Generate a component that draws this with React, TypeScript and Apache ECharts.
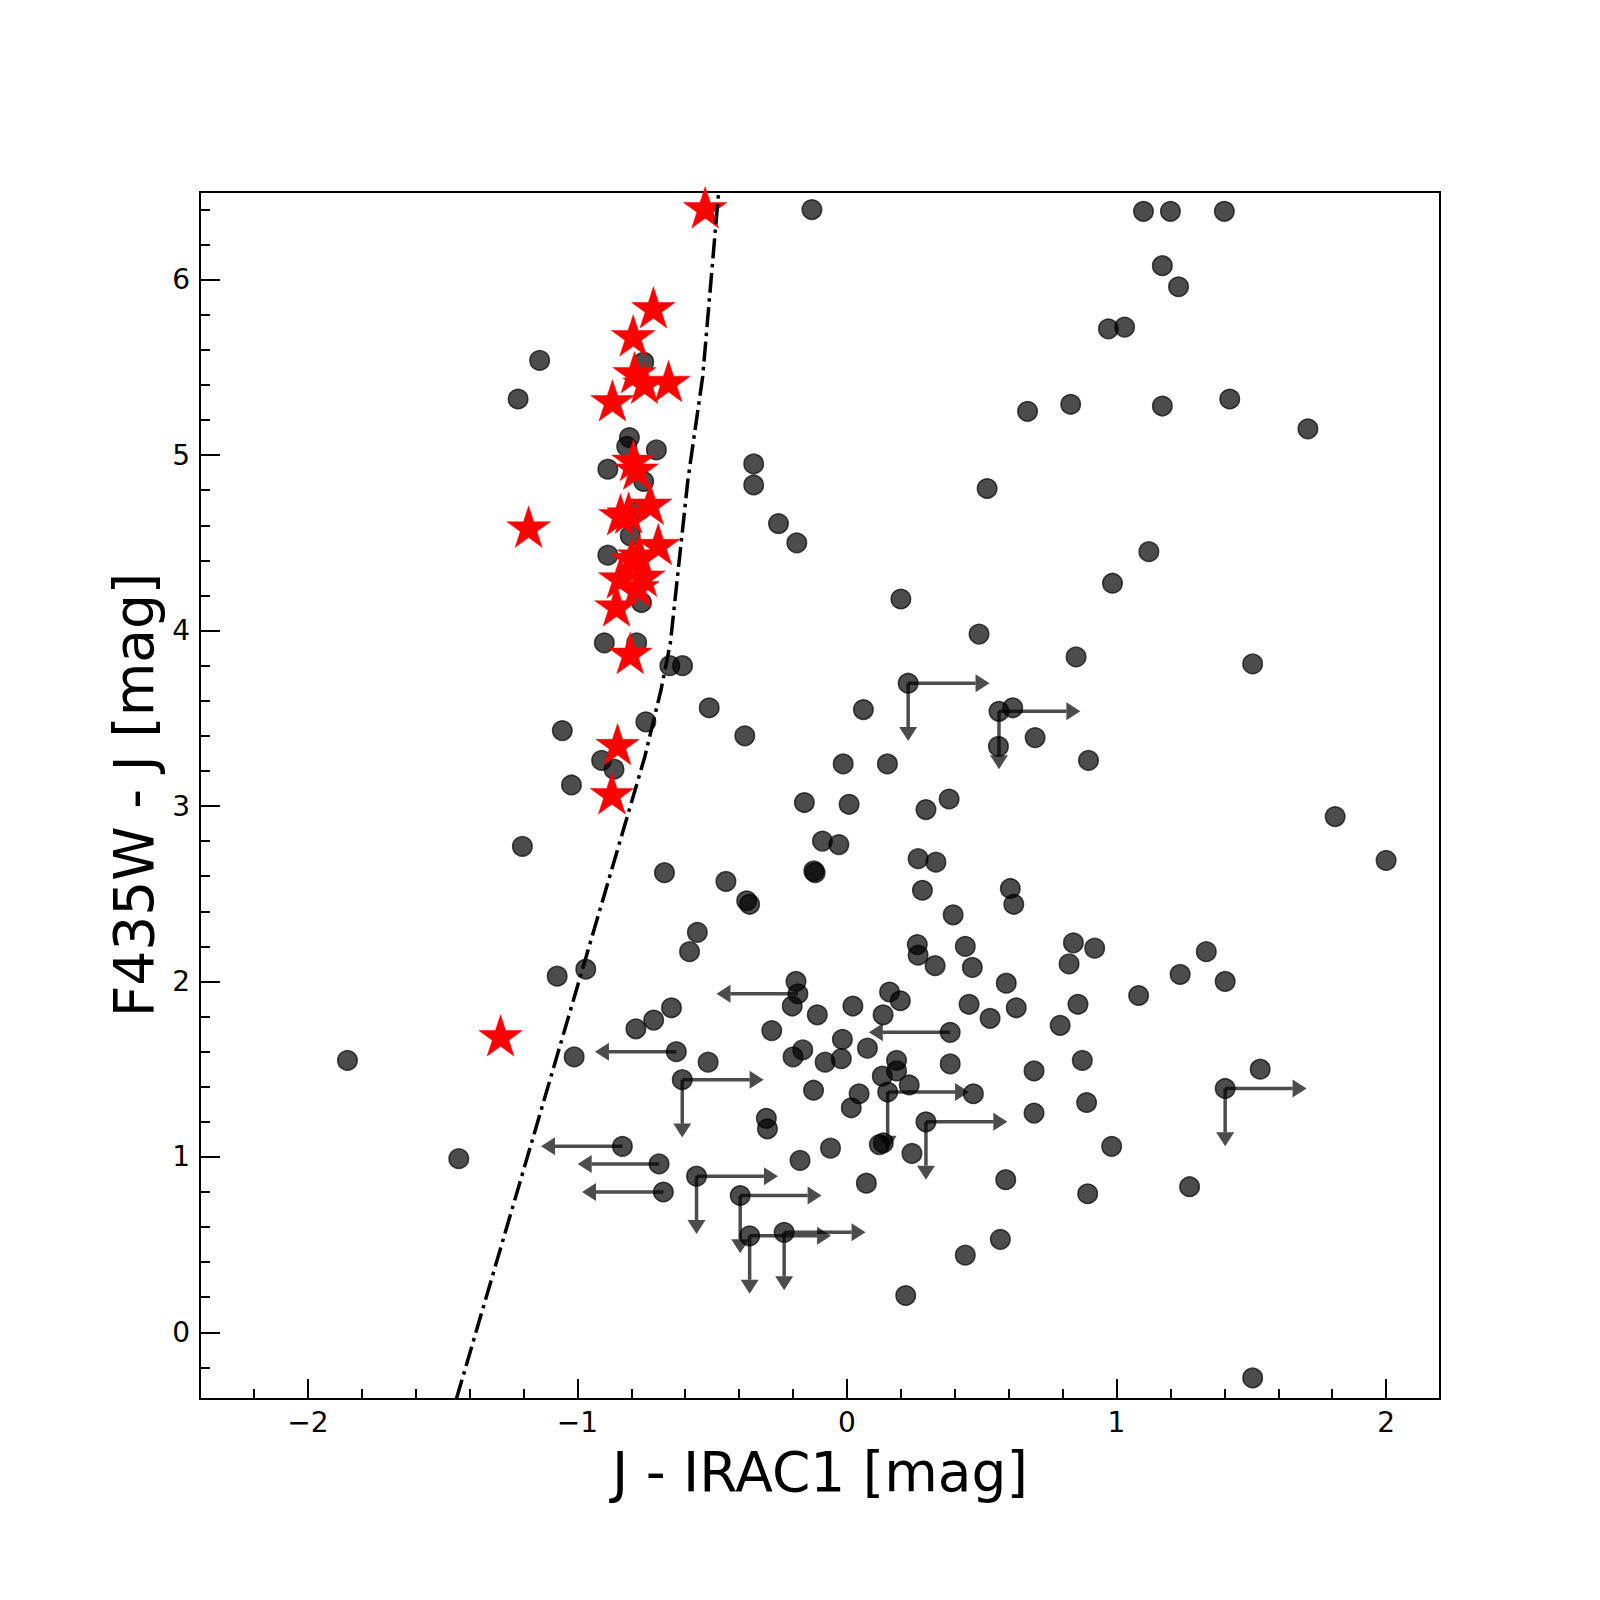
import React, { useEffect, useRef } from "react";
import * as echarts from "echarts";

// ---- axis extents & ticks ----
const X_MIN = -2.4;
const X_MAX = 2.2;
const Y_MIN = -0.38;
const Y_MAX = 6.5;
const xMajorTicks = [-2, -1, 0, 1, 2];
const xMinorTicks = [-2.2, -1.8, -1.6, -1.4, -1.2, -0.8, -0.6, -0.4, -0.2, 0.2, 0.4, 0.6, 0.8, 1.2, 1.4, 1.6, 1.8];
const yMajorTicks = [0, 1, 2, 3, 4, 5, 6];
const yMinorTicks = [-0.2, 0.2, 0.4, 0.6, 0.8, 1.2, 1.4, 1.6, 1.8, 2.2, 2.4, 2.6, 2.8, 3.2, 3.4, 3.6, 3.8, 4.2, 4.4, 4.6, 4.8, 5.2, 5.4, 5.6, 5.8, 6.2, 6.4];
const xTitle = "J - IRAC1 [mag]";
const yTitle = "F435W - J [mag]";

// ---- grey circles (J - IRAC1, F435W - J) ----
const upperCircles: [number, number][] = [
  [-0.13, 6.4], [1.1, 6.39], [1.2, 6.39], [1.4, 6.39], [1.17, 6.08], [1.23, 5.96], [0.97, 5.72], [1.03, 5.73],
  [0.67, 5.25], [0.83, 5.29], [1.17, 5.28], [1.42, 5.32], [1.71, 5.15], [0.52, 4.81], [1.12, 4.45], [0.985, 4.27],
  [0.2, 4.18], [0.49, 3.98], [0.85, 3.85], [1.505, 3.81],
  [-1.14, 5.54], [-1.22, 5.32], [-0.754, 5.53], [-0.807, 5.1], [-0.817, 5.05], [-0.707, 5.03], [-0.887, 4.92],
  [-0.754, 4.85], [-0.767, 4.69], [-0.804, 4.54], [-0.887, 4.43], [-0.762, 4.16],
  [-0.346, 4.95], [-0.346, 4.83], [-0.254, 4.61], [-0.186, 4.5],
  [-0.9, 3.93], [-0.78, 3.93], [-0.657, 3.8], [-0.61, 3.8], [-0.511, 3.56], [-0.379, 3.4], [-0.746, 3.48],
  [-1.056, 3.43], [-0.91, 3.26], [-0.864, 3.21], [-1.022, 3.12], [-1.204, 2.77],
];
const midCircles: [number, number][] = [
  [0.227, 3.7], [0.061, 3.55], [0.564, 3.54], [0.615, 3.56], [0.562, 3.34], [0.698, 3.39], [0.896, 3.26],
  [-0.014, 3.24], [0.15, 3.24], [0.379, 3.04], [0.293, 2.98], [0.008, 3.01], [-0.158, 3.02], [-0.091, 2.8],
  [-0.03, 2.78], [-0.123, 2.63], [-0.118, 2.62], [0.264, 2.7], [0.33, 2.68], [0.28, 2.52], [0.606, 2.53],
  [0.619, 2.44], [0.394, 2.38], [1.811, 2.94], [2.0, 2.69],
  [-0.449, 2.57], [-0.372, 2.46], [-0.361, 2.44], [-0.555, 2.28], [-0.584, 2.17], [-0.677, 2.62],
  [-1.075, 2.03], [-0.969, 2.07],
];
const lowerCircles: [number, number][] = [
  [0.261, 2.21], [0.264, 2.15], [0.327, 2.09], [0.439, 2.2], [0.465, 2.08], [0.84, 2.22], [0.919, 2.19],
  [0.824, 2.1], [1.333, 2.17], [1.236, 2.04], [1.403, 2.0], [1.082, 1.92], [0.591, 1.99], [0.453, 1.87],
  [0.531, 1.79], [0.628, 1.85], [0.857, 1.87], [0.791, 1.75],
  [-0.189, 2.0], [-0.182, 1.93], [-0.203, 1.86], [-0.11, 1.81], [0.022, 1.86], [0.158, 1.94], [0.198, 1.89],
  [0.134, 1.81], [0.383, 1.71], [-0.279, 1.72], [-0.783, 1.73], [-0.717, 1.78], [-0.651, 1.85],
  [-0.017, 1.67], [0.076, 1.62], [-0.164, 1.61], [-0.2, 1.57], [-0.021, 1.56], [-0.081, 1.54], [-0.515, 1.54],
  [-0.633, 1.6], [-0.611, 1.44], [0.383, 1.53], [0.873, 1.55], [0.694, 1.49], [1.533, 1.5], [1.403, 1.39],
  [-0.124, 1.38], [0.045, 1.36], [0.016, 1.28], [0.184, 1.55], [0.184, 1.49], [0.131, 1.46], [0.231, 1.41],
  [0.151, 1.37], [0.469, 1.36], [0.694, 1.25], [0.889, 1.31], [-0.299, 1.22], [-0.295, 1.16], [0.293, 1.2],
  [0.12, 1.07], [0.135, 1.08],
  [-0.833, 1.06], [-0.697, 0.96], [-0.681, 0.8], [-0.558, 0.89], [-0.396, 0.78], [-0.361, 0.55], [-0.233, 0.57],
  [0.982, 1.06], [0.241, 1.02], [-0.061, 1.05], [-0.174, 0.98], [0.072, 0.85], [0.589, 0.87], [0.893, 0.79],
  [1.271, 0.83], [0.569, 0.53], [0.439, 0.44], [0.218, 0.21], [1.505, -0.26],
  [-1.012, 1.57], [-1.853, 1.55], [-1.44, 0.99],
];

// ---- limits: right (lower limit in x) + down (upper limit in y), and left-only ----
const limitRightDown: [number, number][] = [
  [0.227, 3.7], [0.564, 3.54], [-0.611, 1.44], [1.403, 1.39], [0.151, 1.37], [0.293, 1.2],
  [-0.558, 0.89], [-0.396, 0.78], [-0.361, 0.55], [-0.233, 0.57],
];
const limitLeft: [number, number][] = [
  [-0.182, 1.93], [0.383, 1.71], [-0.633, 1.6], [-0.833, 1.06], [-0.697, 0.96], [-0.681, 0.8],
];
const ARROW_LEN = 0.25;

// ---- red stars ----
const stars: [number, number][] = [
  [-0.526, 6.4], [-0.718, 5.83], [-0.793, 5.67], [-0.788, 5.46], [-0.751, 5.4], [-0.662, 5.41], [-0.87, 5.3],
  [-0.792, 4.96], [-0.78, 4.91], [-1.181, 4.58], [-0.84, 4.65], [-0.81, 4.66], [-0.73, 4.71], [-0.7, 4.48],
  [-0.798, 4.4], [-0.771, 4.42], [-0.841, 4.29], [-0.777, 4.24], [-0.755, 4.3], [-0.855, 4.13], [-0.804, 3.86],
  [-0.851, 3.34], [-0.872, 3.06], [-1.285, 1.68],
];

// ---- dash-dot boundary line ----
const boundaryLine: [number, number][] = [
  [-1.449, -0.38], [-0.75, 3.28], [-0.69, 3.66], [-0.655, 3.93], [-0.59, 4.86], [-0.535, 5.45], [-0.476, 6.5],
];

const STAR_PATH =
  "path://M0,-1L0.2245,-0.309L0.951,-0.309L0.363,0.118L0.588,0.809L0,0.382L-0.588,0.809L-0.363,0.118L-0.951,-0.309L-0.2245,-0.309ZM0,1";
const GREY = "rgba(0,0,0,0.7)";
const FONT = "DejaVu Sans";

const fmt = (v: number) => (v < 0 ? "\u2212" + Math.abs(v) : String(v));

export default function App() {
  const ref = useRef<HTMLDivElement>(null);
  useEffect(() => {
    if (!ref.current) return;
    const chart = echarts.init(ref.current, null, { renderer: "svg" });
    const circles = [...upperCircles, ...midCircles, ...lowerCircles];
    const arrowData = [
      ...limitRightDown.map((p) => [p[0], p[1], 0]),
      ...limitLeft.map((p) => [p[0], p[1], 1]),
    ];
    const HL = 14;
    const HW = 9;
    const axisCommon = { splitLine: { show: false }, axisLine: { show: false, onZero: false } };
    const option: any = {
      animation: false,
      backgroundColor: "#fff",
      grid: {
        left: 200, right: 160, top: 192, bottom: 201,
        show: true, borderColor: "#000", borderWidth: 2, backgroundColor: "transparent",
      },
      xAxis: [
        {
          type: "value", min: X_MIN, max: X_MAX, position: "bottom", ...axisCommon,
          axisTick: { show: true, inside: true, length: 20, customValues: xMajorTicks, lineStyle: { color: "#000", width: 2 } },
          axisLabel: { customValues: xMajorTicks, formatter: fmt, fontSize: 28, fontFamily: FONT, color: "#000", margin: 9 },
        },
        {
          type: "value", min: X_MIN, max: X_MAX, position: "bottom", ...axisCommon,
          axisTick: { show: true, inside: true, length: 10, customValues: xMinorTicks, lineStyle: { color: "#000", width: 2 } },
          axisLabel: { show: false },
        },
      ],
      yAxis: [
        {
          type: "value", min: Y_MIN, max: Y_MAX, position: "left", ...axisCommon,
          axisTick: { show: true, inside: true, length: 20, customValues: yMajorTicks, lineStyle: { color: "#000", width: 2 } },
          axisLabel: { customValues: yMajorTicks, formatter: fmt, fontSize: 28, fontFamily: FONT, color: "#000", margin: 10 },
        },
        {
          type: "value", min: Y_MIN, max: Y_MAX, position: "left", ...axisCommon,
          axisTick: { show: true, inside: true, length: 10, customValues: yMinorTicks, lineStyle: { color: "#000", width: 2 } },
          axisLabel: { show: false },
        },
      ],
      graphic: [
        {
          type: "text", x: 820, y: 1472, z: 10,
          style: { text: xTitle, fontSize: 55, fontFamily: FONT, fill: "#000", align: "center", verticalAlign: "middle", textAlign: "center", textVerticalAlign: "middle" },
        },
        {
          type: "text", x: 134, y: 795, rotation: Math.PI / 2, z: 10,
          style: { text: yTitle, fontSize: 55, fontFamily: FONT, fill: "#000", align: "center", verticalAlign: "middle", textAlign: "center", textVerticalAlign: "middle" },
        },
      ],
      series: [
        {
          type: "custom", xAxisIndex: 0, yAxisIndex: 0, z: 2, silent: true,
          encode: { x: 0, y: 1 },
          data: arrowData,
          renderItem: (params: any, api: any) => {
            const x = api.value(0);
            const y = api.value(1);
            const kind = api.value(2);
            const p = api.coord([x, y]);
            const lineStyle = { stroke: GREY, lineWidth: 3.5, fill: null };
            const children: any[] = [];
            if (kind === 0) {
              const pr = api.coord([x + ARROW_LEN, y]);
              children.push({ type: "line", shape: { x1: p[0], y1: p[1], x2: pr[0], y2: pr[1] }, style: lineStyle });
              children.push({ type: "polygon", shape: { points: [[pr[0], pr[1] - HW], [pr[0] + HL, pr[1]], [pr[0], pr[1] + HW]] }, style: { fill: GREY } });
              const pd = api.coord([x, y - ARROW_LEN]);
              children.push({ type: "line", shape: { x1: p[0], y1: p[1], x2: pd[0], y2: pd[1] }, style: lineStyle });
              children.push({ type: "polygon", shape: { points: [[pd[0] - HW, pd[1]], [pd[0], pd[1] + HL], [pd[0] + HW, pd[1]]] }, style: { fill: GREY } });
            } else {
              const pl = api.coord([x - ARROW_LEN, y]);
              children.push({ type: "line", shape: { x1: p[0], y1: p[1], x2: pl[0], y2: pl[1] }, style: lineStyle });
              children.push({ type: "polygon", shape: { points: [[pl[0], pl[1] - HW], [pl[0] - HL, pl[1]], [pl[0], pl[1] + HW]] }, style: { fill: GREY } });
            }
            return { type: "group", children };
          },
        },
        {
          type: "scatter", xAxisIndex: 0, yAxisIndex: 0, z: 3, silent: true,
          data: circles, symbol: "circle", symbolSize: 19.5,
          itemStyle: { color: GREY, borderColor: GREY, borderWidth: 1.5, opacity: 1 },
        },
        {
          type: "scatter", xAxisIndex: 0, yAxisIndex: 0, z: 4, silent: true,
          data: stars, symbol: STAR_PATH, symbolSize: [43.5, 45.7],
          itemStyle: { color: "#ff0000", borderColor: "#ff0000", borderWidth: 0.5, opacity: 1 },
        },
        {
          type: "line", xAxisIndex: 0, yAxisIndex: 0, z: 5, silent: true,
          data: boundaryLine, showSymbol: false, symbol: "none",
          lineStyle: { color: "#000", width: 3.5, type: [20, 5.5, 3.5, 5.5], opacity: 1 },
        },
      ],
    };
    chart.setOption(option);
    return () => chart.dispose();
  }, []);
  return <div ref={ref} style={{ position: "absolute", left: 0, top: 0, width: 1600, height: 1600, background: "#fff" }} />;
}
